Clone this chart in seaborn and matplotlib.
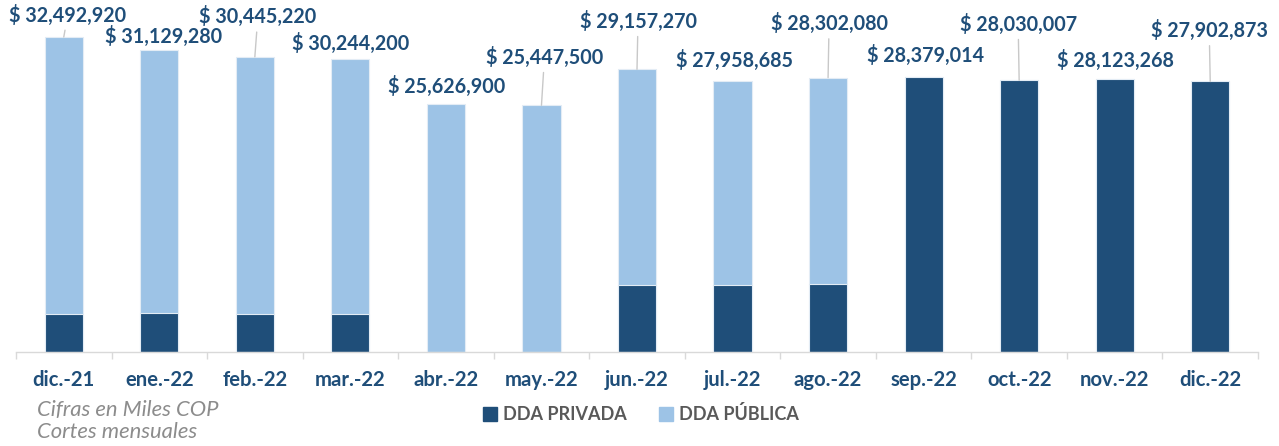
import matplotlib
matplotlib.use("Agg")
import matplotlib.pyplot as plt
from matplotlib.lines import Line2D
import seaborn as sns
import pandas as pd
import numpy as np

# Monthly DDA balances (thousands COP)
months = ["dic.-21", "ene.-22", "feb.-22", "mar.-22", "abr.-22", "may.-22", "jun.-22",
          "jul.-22", "ago.-22", "sep.-22", "oct.-22", "nov.-22", "dic.-22"]
total = [32492920, 31129280, 30445220, 30244200, 25626900, 25447500, 29157270,
         27958685, 28302080, 28379014, 28030007, 28123268, 27902873]
privada = [3950000, 4000000, 3950000, 3950000, 0, 0, 6880000,
           6900000, 6980000, 28379014, 28030007, 28123268, 27902873]

# label offsets (px) from the top of each bar to the label centre
label_dx = [4, 4, 3, 0, 1, 3, 1, 2, 1, 2, -1, 1, -1]
label_up = [22, 14, 40, 15, 17, 48, 48, 21, 54, 21, 56, 19, 51]

DARK = "#1F4E79"
LIGHT = "#9DC3E6"
TEXT_BLUE = "#1F4E79"
GRAY = "#595959"

df = pd.DataFrame({"mes": months, "total": total, "privada": privada})

sns.set_theme(style="white")
plt.rcParams["font.family"] = ["Lato", "DejaVu Sans"]

W, H = 1279, 446
fig = plt.figure(figsize=(W / 100, H / 100), dpi=100)
ax = fig.add_axes([16 / W, 94 / H, 1242 / W, 347 / H])

px_per_unit = (352 - 37) / 32492920
ax.set_ylim(0, 347 / px_per_unit)

# light bars carry the full total; dark bars are painted over from the base
sns.barplot(data=df, x="mes", y="total", color=LIGHT, width=0.4, ax=ax,
            edgecolor="#E3ECF5", linewidth=0.8, saturation=1)
sns.barplot(data=df, x="mes", y="privada", color=DARK, width=0.4, ax=ax,
            edgecolor="#E3ECF5", linewidth=0.8, saturation=1)
ax.set_xlim(-0.5, len(months) - 0.5)

for i, v in enumerate(total):
    dx = label_dx[i] * 0.72
    dy = label_up[i] * 0.72
    arrow = None
    if label_up[i] >= 22:
        arrow = dict(arrowstyle="-", color="#C8C8C8", lw=1.0, shrinkA=1, shrinkB=0)
    ax.annotate(f"$ {v:,}", xy=(i, v), xytext=(dx, dy), textcoords="offset points",
                ha="center", va="center", fontsize=14.2, fontweight="bold",
                color=TEXT_BLUE, arrowprops=arrow, annotation_clip=False)

for s in ["top", "right", "left"]:
    ax.spines[s].set_visible(False)
ax.spines["bottom"].set_color("#D9D9D9")
ax.spines["bottom"].set_linewidth(1)
ax.set_yticks([])
ax.set_xlabel("")
ax.set_ylabel("")
ax.tick_params(axis="x", which="major", length=0, pad=13, labelsize=14.6,
               labelcolor=TEXT_BLUE)
for t in ax.get_xticklabels():
    t.set_fontweight("bold")
ax.set_xticks(np.arange(-0.5, len(months), 1.0), minor=True)
ax.tick_params(axis="x", which="minor", length=5, color="#D9D9D9", width=1, bottom=True)

handles = [Line2D([], [], marker="s", linestyle="none", markersize=10, color=DARK),
           Line2D([], [], marker="s", linestyle="none", markersize=10, color=LIGHT)]
leg = fig.legend(handles, ["DDA PRIVADA", "DDA PÚBLICA"], loc="center",
                 bbox_to_anchor=(640 / W, 1 - 414 / H), ncol=2, frameon=False,
                 handletextpad=0.2, columnspacing=1.7, handlelength=1.0,
                 prop={"size": 13, "weight": "bold"})
for t in leg.get_texts():
    t.set_color(GRAY)

fig.text(37 / W, 1 - 410 / H, "Cifras en Miles COP", ha="left", va="center",
         fontsize=15.8, style="italic", color="#8C8C8C")
fig.text(37 / W, 1 - 432 / H, "Cortes mensuales", ha="left", va="center",
         fontsize=15.8, style="italic", color="#8C8C8C")

fig.savefig("out.png", dpi=100)
